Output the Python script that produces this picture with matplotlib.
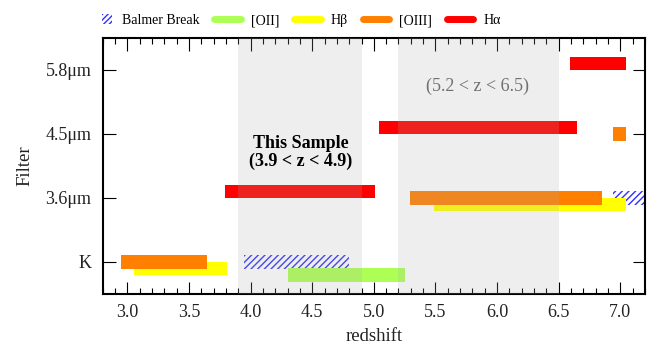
import numpy as np
import matplotlib
matplotlib.use('Agg')
import matplotlib.pyplot as plt
import matplotlib.patches as mpatches
from matplotlib.lines import Line2D
from matplotlib.legend_handler import HandlerPatch
from matplotlib.ticker import MultipleLocator

plt.rcParams['font.family'] = ['Liberation Serif', 'DejaVu Serif']
plt.rcParams['hatch.linewidth'] = 1.0

# ---- data ----
filters = ['K', '3.6μm', '4.5μm', '5.8μm']
filter_pos = [1, 2, 3, 4]

# redshift ranges covered by each feature, per filter row
balmer_rows = [1, 2]
balmer_lo = [3.95, 6.94]
balmer_hi = [4.80, 7.30]

oii_rows = [1]
oii_lo = [4.30]
oii_hi = [5.25]

hb_rows = [1, 2]
hb_lo = [3.05, 5.49]
hb_hi = [3.81, 7.05]

oiii_rows = [1, 2, 3]
oiii_lo = [2.95, 5.29, 6.94]
oiii_hi = [3.65, 6.85, 7.05]

ha_rows = [2, 3, 4]
ha_lo = [3.79, 5.04, 6.59]
ha_hi = [5.01, 6.65, 7.05]

sample_lo, sample_hi = 3.9, 4.9
high_lo, high_hi = 5.2, 6.5

# ---- style ----
c_oii = '#adff55'
c_hb = '#ffff00'
c_oiii = '#ff7f00'
c_ha = '#ff0000'
c_balmer = '#3030ff'
bh = 0.21

fig = plt.figure(figsize=(6.57, 3.47), dpi=100)
ax = fig.add_axes([0.1563, 0.1527, 0.8254, 0.7387])


def draw(rows, lo, hi, off, **kw):
    y = np.array(rows) + off
    w = np.array(hi) - np.array(lo)
    ax.barh(y, w, left=lo, height=bh, **kw)


draw(balmer_rows, balmer_lo, balmer_hi, 0.0, facecolor='white',
     edgecolor=c_balmer, linewidth=0, hatch='/////', zorder=2)
draw(oii_rows, oii_lo, oii_hi, -0.2, color=c_oii, linewidth=0, zorder=3)
draw(hb_rows, hb_lo, hb_hi, -0.1, color=c_hb, linewidth=0, zorder=4)
draw(oiii_rows, oiii_lo, oiii_hi, 0.0, color=c_oiii, linewidth=0, zorder=5)
draw(ha_rows, ha_lo, ha_hi, 0.1, color=c_ha, linewidth=0, zorder=6)

# shaded redshift windows (drawn on top, semi-transparent)
ax.axvspan(sample_lo, sample_hi, color='#aaaaaa', alpha=0.2, lw=0, zorder=7)
ax.axvspan(high_lo, high_hi, color='#aaaaaa', alpha=0.2, lw=0, zorder=7)

ax.text(4.41, 2.71, 'This Sample\n(3.9 < z < 4.9)', ha='center', va='center',
        fontsize=13, fontweight='bold', linespacing=1.05, zorder=8)
ax.text(5.84, 3.74, '(5.2 < z < 6.5)', ha='center', va='center',
        fontsize=13, color='#707070', zorder=8)

ax.set_xlim(2.8, 7.2)
ax.set_ylim(0.5, 4.5)
ax.set_yticks(filter_pos)
ax.set_yticklabels(filters)
ax.xaxis.set_major_locator(MultipleLocator(0.5))
ax.xaxis.set_minor_locator(MultipleLocator(0.1))
ax.tick_params(which='both', direction='in', top=True, right=True,
               labelsize=13, width=0.8, labelcolor='#222222')
ax.tick_params(axis='x', pad=7)
ax.tick_params(axis='y', pad=8)
ax.tick_params(which='major', length=9)
ax.tick_params(which='minor', length=4.5)
for s in ax.spines.values():
    s.set_linewidth(1.5)
ax.set_xlabel('redshift', fontsize=13.5, labelpad=5, color='#222222')
ax.set_ylabel('Filter', fontsize=13.5, labelpad=9, color='#222222')


# legend
def square_patch(legend, orig_handle, xdescent, ydescent, width, height, fontsize):
    return mpatches.Rectangle((width - height - xdescent, -ydescent), height, height)


handles = [
    mpatches.Patch(facecolor='white', edgecolor=c_balmer, linewidth=0, hatch='//////'),
    Line2D([], [], color=c_oii, lw=5, solid_capstyle='round'),
    Line2D([], [], color=c_hb, lw=5, solid_capstyle='round'),
    Line2D([], [], color=c_oiii, lw=5, solid_capstyle='round'),
    Line2D([], [], color=c_ha, lw=5, solid_capstyle='round'),
]
labels = ['Balmer Break', '[OII]', 'Hβ', '[OIII]', 'Hα']
ax.legend(handles, labels, ncol=5, frameon=False, fontsize=10,
          loc='lower left', bbox_to_anchor=(-0.042, 1.02), borderaxespad=0,
          handlelength=1.9, handletextpad=0.7, columnspacing=1.1,
          handler_map={mpatches.Patch: HandlerPatch(patch_func=square_patch)})

fig.savefig('out.png', dpi=100)
